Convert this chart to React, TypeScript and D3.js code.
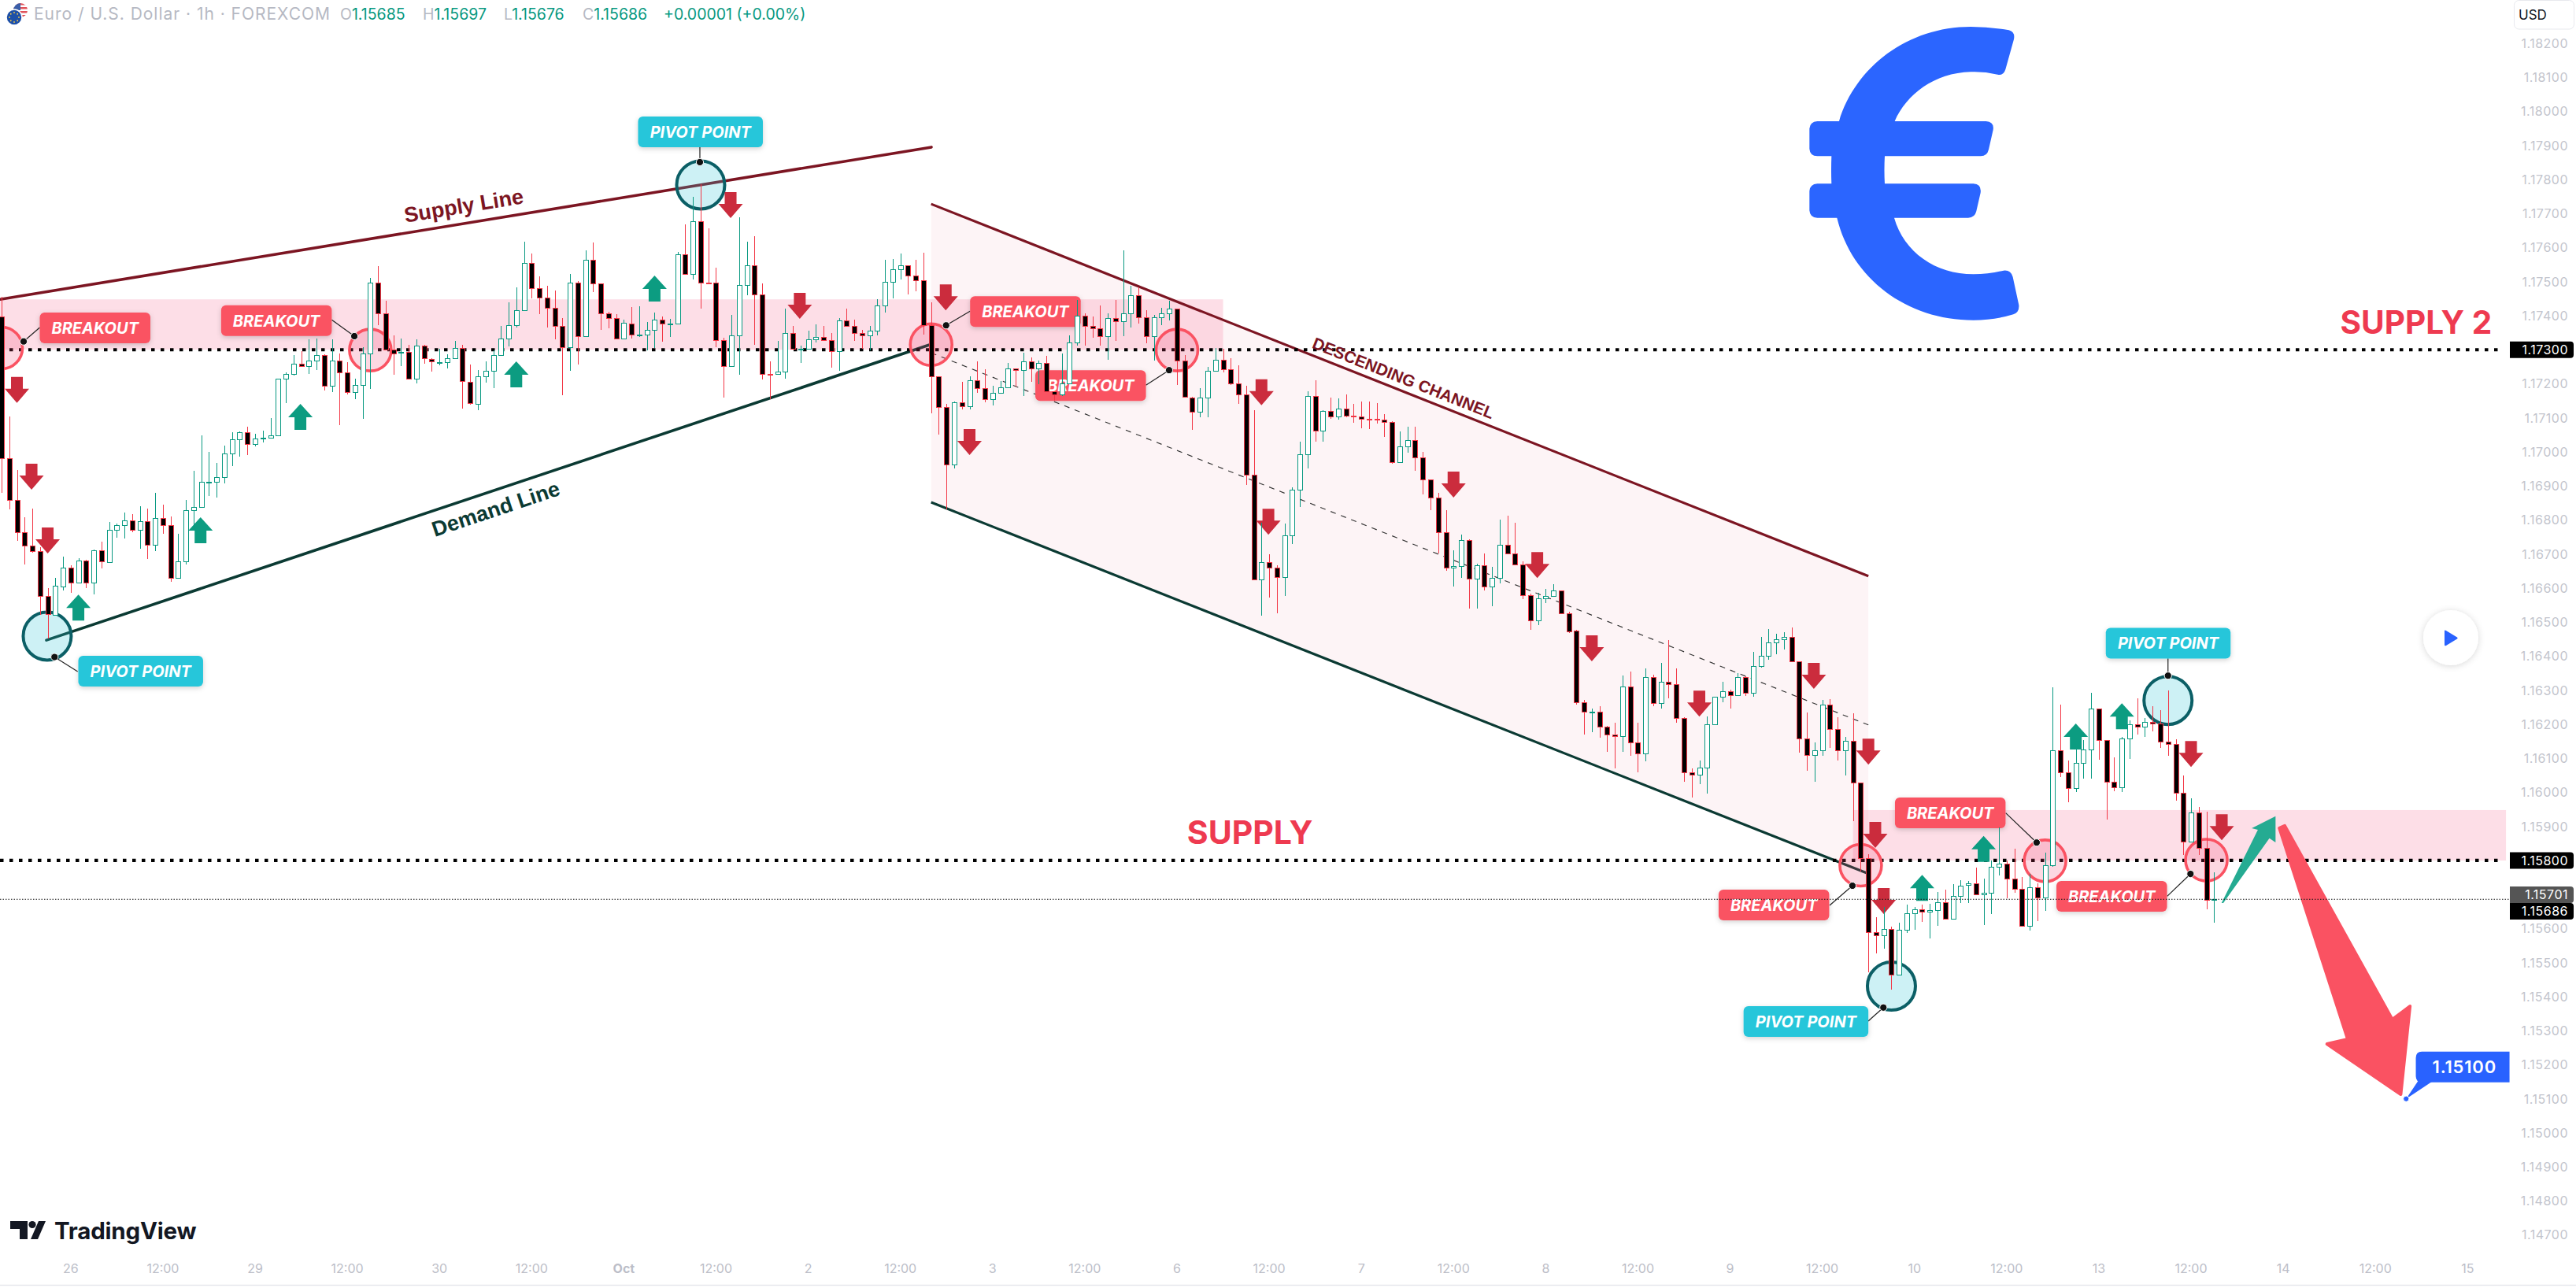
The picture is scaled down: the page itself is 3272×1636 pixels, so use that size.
import React from "react";
import * as d3 from "d3";

const W = 3272;
const H = 1636;

// Hourly candles, prices in 1e-5 units
const opens = [
117398,116981,116858,116763,116725,116708,116576,116522,116605,116661,
116617,116682,116617,116712,116677,116770,116784,116799,116770,116797,
116728,116805,116784,116629,116678,116830,116839,116910,116911,116927,
116996,117038,117057,117024,117041,117042,117049,117214,117230,117260,
117251,117269,117285,117195,117269,117234,117175,117197,117290,117498,
117408,117301,117292,117293,117216,117313,117273,117263,117264,117276,
117305,117206,117141,117223,117237,117285,117334,117373,117417,117554,
117482,117454,117424,117371,117308,117498,117341,117565,117494,117408,
117394,117333,117378,117344,117345,117359,117389,117377,117378,117581,
117523,117678,117497,117496,117329,117253,117343,117489,117547,117463,
117228,117228,117236,117348,117303,117303,117331,117338,117329,117297,
117387,117371,117348,117343,117355,117429,117500,117537,117547,117519,
117503,117373,117223,117132,116964,117146,117135,117211,117188,117154,
117174,117190,117245,117241,117266,117244,117262,117178,117168,117201,
117322,117400,117371,117362,117339,117394,117383,117408,117461,117396,
117339,117396,117408,117420,117269,117160,117117,117160,117239,117271,
117243,117201,117169,116934,116625,116677,116660,116633,116754,116890,
116994,117163,117063,117121,117103,117126,117107,117104,117098,117098,
117094,117087,116969,117017,117034,116983,116920,116867,116763,116659,
116664,116740,116627,116668,116604,116629,116728,116701,116670,116578,
116504,116569,116576,116592,116527,116474,116265,116237,116238,116192,
116171,116165,116312,116146,116114,116338,116262,116324,116319,116218,
116058,116053,116072,116199,116282,116296,116285,116338,116292,116370,
116400,116440,116449,116456,116386,116158,116109,116123,116257,116185,
116123,116151,116028,115808,115589,115580,115598,115464,115596,115644,
115656,115649,115654,115677,115628,115697,115728,115734,115701,115705,
115781,115790,115746,115716,115609,115721,115691,115785,116124,116058,
116012,116086,116127,116246,116153,116031,116015,116158,116199,116194,
116206,116202,116149,116142,115998,115855,115940,115836,115685];

const closes = [
116981,116858,116763,116725,116708,116576,116523,116606,116661,116617,
116682,116617,116712,116678,116770,116784,116799,116770,116797,116728,
116805,116784,116629,116678,116830,116839,116911,116911,116927,116996,
117038,117057,117024,117040,117042,117049,117214,117230,117260,117251,
117269,117285,117195,117269,117234,117175,117197,117290,117498,117408,
117301,117290,117293,117216,117313,117274,117265,117264,117276,117305,
117208,117144,117223,117237,117285,117334,117373,117417,117554,117482,
117454,117424,117371,117308,117498,117341,117565,117494,117408,117394,
117333,117379,117344,117345,117359,117389,117378,117378,117581,117523,
117678,117497,117496,117329,117253,117343,117489,117547,117463,117228,
117227,117236,117348,117304,117304,117331,117338,117329,117297,117387,
117371,117348,117343,117355,117429,117500,117537,117547,117519,117503,
117373,117223,117132,116964,117146,117135,117211,117188,117154,117174,
117190,117246,117241,117266,117244,117262,117178,117168,117201,117322,
117400,117371,117362,117339,117394,117383,117408,117461,117396,117339,
117396,117408,117420,117269,117161,117117,117160,117239,117271,117243,
117201,117169,116934,116625,116677,116660,116633,116754,116890,116994,
117163,117063,117121,117103,117126,117107,117106,117098,117097,117094,
117087,116969,117017,117034,116983,116920,116867,116763,116659,116664,
116740,116627,116668,116604,116629,116728,116701,116670,116578,116504,
116569,116576,116592,116527,116473,116265,116238,116238,116192,116171,
116165,116312,116146,116114,116338,116262,116324,116319,116218,116058,
116053,116072,116199,116282,116296,116285,116338,116292,116370,116400,
116440,116449,116456,116386,116158,116109,116123,116257,116185,116123,
116151,116028,115808,115589,115580,115598,115464,115596,115644,115656,
115649,115654,115677,115628,115697,115727,115734,115701,115705,115781,
115790,115746,115716,115609,115721,115691,115786,116124,116058,116012,
116086,116127,116246,116153,116031,116015,116158,116199,116194,116206,
116202,116149,116142,115998,115855,115940,115837,115684,115686];

const highs = [
117456,117105,116946,116808,116834,116721,116599,116630,116692,116667,
116688,116683,116714,116737,116795,116789,116821,116818,116840,116834,
116879,116844,116810,116759,116860,116944,117048,116999,116968,117018,
117057,117059,117073,117053,117062,117099,117216,117233,117284,117296,
117330,117332,117286,117330,117290,117263,117216,117308,117512,117545,
117445,117342,117332,117315,117330,117315,117276,117303,117286,117326,
117315,117257,117240,117265,117298,117371,117439,117483,117618,117583,
117515,117488,117473,117392,117522,117502,117591,117615,117494,117411,
117404,117388,117425,117427,117382,117409,117398,117390,117587,117668,
117749,117787,117656,117540,117335,117402,117688,117618,117633,117494,
117267,117326,117421,117369,117313,117355,117374,117371,117350,117392,
117421,117388,117359,117371,117448,117565,117567,117582,117547,117565,
117584,117439,117223,117140,117149,117205,117223,117267,117242,117194,
117209,117261,117245,117292,117277,117269,117281,117178,117290,117342,
117446,117408,117398,117429,117408,117446,117593,117488,117483,117417,
117403,117423,117444,117420,117284,117161,117188,117249,117305,117302,
117275,117254,117195,117122,116793,116699,116668,116789,116895,117030,
117177,117211,117122,117159,117157,117168,117140,117149,117147,117143,
117112,117090,117059,117073,117073,117000,116920,116879,116828,116711,
116758,116743,116671,116701,116662,116801,116812,116793,116679,116584,
116585,116597,116611,116594,116530,116477,116271,116246,116254,116195,
116204,116343,116356,116204,116363,116345,116380,116447,116364,116221,
116070,116094,116223,116282,116325,116302,116350,116342,116412,116456,
116479,116466,116470,116484,116386,116235,116146,116271,116274,116221,
116163,116232,116028,115818,115633,115664,115605,115618,115670,115664,
115670,115672,115708,115714,115730,115741,115740,115779,115747,115801,
115896,115801,115834,115752,115761,115734,115823,116308,116258,116094,
116127,116154,116293,116246,116153,116102,116162,116212,116276,116218,
116254,116241,116300,116155,116050,115983,115957,115943,115765];

const lows = [
116880,116832,116739,116669,116704,116522,116452,116520,116594,116586,
116617,116599,116582,116657,116675,116748,116745,116764,116715,116686,
116708,116759,116619,116629,116669,116774,116839,116871,116865,116908,
116958,116986,116991,117015,117028,117040,117047,117143,117224,117251,
117228,117241,117181,117176,117078,117169,117154,117096,117185,117373,
117301,117227,117253,117214,117201,117259,117235,117255,117245,117274,
117128,117138,117123,117203,117187,117282,117309,117365,117417,117450,
117404,117365,117330,117167,117238,117257,117341,117470,117358,117363,
117331,117333,117333,117338,117298,117305,117323,117338,117378,117523,
117506,117421,117494,117307,117159,117253,117226,117460,117315,117213,
117154,117228,117214,117302,117261,117302,117321,117329,117248,117238,
117371,117326,117302,117298,117342,117409,117450,117507,117462,117471,
117344,117113,117051,116831,116951,117124,117124,117173,117146,117136,
117173,117188,117192,117164,117205,117198,117177,117150,117165,117201,
117312,117312,117336,117312,117271,117326,117340,117366,117376,117319,
117268,117372,117386,117196,117161,117065,117101,117101,117239,117234,
117196,117141,116903,116625,116519,116572,116526,116577,116730,116838,
116951,117030,117030,117097,117095,117101,117086,117070,117067,117084,
117044,116965,116969,116997,116944,116875,116829,116702,116651,116604,
116630,116540,116540,116593,116547,116614,116699,116668,116568,116477,
116491,116556,116576,116525,116468,116258,116171,116177,116161,116120,
116070,116120,116107,116060,116092,116254,116246,116277,116205,116032,
115986,116024,115997,116199,116265,116246,116285,116283,116281,116367,
116390,116406,116420,116383,116117,116064,116032,116107,116131,116094,
116050,115915,115768,115472,115526,115541,115421,115464,115587,115596,
115620,115572,115608,115628,115627,115676,115676,115699,115611,115642,
115755,115690,115706,115605,115593,115621,115651,115782,116044,115972,
116002,116041,116041,116095,115920,116004,116002,116099,116171,116164,
116179,116131,116108,115975,115816,115853,115816,115657,115618];

// Time axis: one label every 12 bars, starting at bar -3
const timeLabels = ["12:00","26","12:00","29","12:00","30","12:00","Oct","12:00","2","12:00","3","12:00","6","12:00","7","12:00","8","12:00","9","12:00","10","12:00","13","12:00","14","12:00","15"];

// Annotations, all as [bar, price(1e-5)]
const downArrows = [[2,117220],[3.9,116965],[6,116778],[94.9,117763],[103.9,117467],[122.9,117492],[126,117067],[164,117213],[164.9,116833],[189,116942],[199.9,116706],[207,116461],[221,116299],[235.9,116380],[243,116158],[243.9,115913],[245,115719],[285,116151],[289,115936]];
const upArrows = [[10,116581],[25.9,116808],[38.9,117141],[67,117266],[85,117518],[250,115758],[258,115872],[270,116202],[276,116262]];

const breakouts = [
  { at: [0, 117305], box: [48.5, -45], dot: [28, -8.4], from: [48.5, -26] },
  { at: [48, 117299], box: [-189.5, -57], dot: [-20.3, -17.7], from: [-49, -38.5] },
  { at: [121, 117315], box: [49.5, -61.5], dot: [19, -24.5], from: [49.5, -42.5] },
  { at: [153, 117299], box: [-179.9, 25.5], dot: [-10, 25.5], from: [-39.5, 44.5] },
  { at: [242, 115786], box: [-180.5, 31], dot: [-10.5, 26], from: [-39.5, 51] },
  { at: [266, 115799], box: [-190.7, -80.5], dot: [-10.7, -23.2], from: [-50, -60.8] },
  { at: [287, 115801], box: [-190.5, 26.5], dot: [-20.2, 17.5], from: [-49.8, 45.8] },
];
const pivots = [
  { at: [5.94, 116459], box: [39.5, 25], dot: [9.3, 26.6], from: [38.7, 45] },
  { at: [91, 117784], box: [-79.5, -87], dot: [-1, -29], from: [-1, -48] },
  { at: [246, 115431], box: [-187.8, 25.5], dot: [-10.2, 27.2], from: [-29.5, 44.5] },
  { at: [282, 116270], box: [-79, -92.2], dot: [0, -31.5], from: [0, -53.5] },
];

const supplyLine = [[-0.2, 117448], [121.03, 117895]];
const demandLine = [[5.84, 116447], [120.7, 117314]];
const channelTop = [[121, 117728], [243, 116635]];
const channelMid = [[121, 117291], [243, 116198]];
const channelBottom = [[121, 116852], [243, 115761]];
const zoneOne = [[-0.2, 117448], [159, 117300]];
const zoneTwo = [[241, 115948], [326, 115800]];
const levels = [117300, 115800];
const lastPrice = 115686;
const targetNote = [313, 115100];
const bigRedArrow = [[296.5,115895],[297.2,115902],[311.2,115333],[313.5,115372],[312.3,115113],[302.7,115261],[305.4,115275]];
const bigGreenArrow = [[288.97,115675],[293.7,115890],[292.9,115895],[296,115930],[296,115853],[295.2,115865],[289.2,115675]];

const GREEN = "#089981";
const RED = "#f23645";
const DARKRED = "#7c1522";
const DARKGREEN = "#0b3a33";
const CORAL = "#fa5262";
const CYAN = "#26c6da";
const UI = "Inter, 'Noto Sans', sans-serif";

const x = d3.scaleLinear().domain([0, 288]).range([2, 2 + 288 * 9.758]);
const y = d3.scaleLinear().domain([118200, 115100]).range([55, 1395.7]);
const pt = (d: number[]) => [x(d[0]), y(d[1])] as [number, number];
const line = d3.line();
const fmt = (p: number) => (p / 100000).toFixed(5);

function Arrow({ i, p, dir }: { i: number; p: number; dir: "up" | "down" }) {
  const cx = x(i);
  const t = y(p);
  const poly =
    dir === "down"
      ? [[cx - 7.5, t], [cx + 7.5, t], [cx + 7.5, t + 15], [cx + 15.5, t + 15], [cx, t + 33], [cx - 15.5, t + 15], [cx - 7.5, t + 15]]
      : [[cx, t], [cx + 15.5, t + 17], [cx + 7.5, t + 17], [cx + 7.5, t + 33], [cx - 7.5, t + 33], [cx - 7.5, t + 17], [cx - 15.5, t + 17]];
  return <polygon points={poly.map((q) => q.join(",")).join(" ")} fill={dir === "down" ? "#cb2c3d" : "#0c9c81"} />;
}

function Callout({ a, label, width, color }: { a: (typeof pivots)[number]; label: string; width: number; color: string }) {
  const [cx, cy] = pt(a.at);
  const bx = cx + a.box[0];
  const by = cy + a.box[1];
  return (
    <g>
      <line x1={cx + a.from[0]} y1={cy + a.from[1]} x2={cx + a.dot[0]} y2={cy + a.dot[1]} stroke="#222" strokeWidth={1.2} />
      <rect x={bx} y={by} width={width} height={39} rx={6} fill={color} filter="url(#soft)" />
      <text x={bx + width / 2} y={by + 27} textAnchor="middle" fill="#fff" fontFamily={UI} fontStyle="italic" fontWeight={700} fontSize={20}>
        {label}
      </text>
      <circle cx={cx + a.dot[0]} cy={cy + a.dot[1]} r={4.6} fill="#111" stroke="#fff" strokeWidth={1} />
    </g>
  );
}

function PriceTag({ p, yy, fill }: { p: number; yy: number; fill: string }) {
  return (
    <g>
      <path d={`M3188 ${yy - 10.5}h77q4 0 4 4v13q0 4 -4 4h-77z`} fill={fill} />
      <text x={3262} y={yy + 5.8} textAnchor="end" fill="#fff" fontFamily={UI} fontSize={16} letterSpacing={0.5}>
        {fmt(p)}
      </text>
    </g>
  );
}

export default function App() {
  const bars = d3.range(opens.length);
  const note = pt(targetNote);
  const chan = [...channelTop.map(pt), ...channelBottom.map(pt).reverse()];
  const z1 = zoneOne.map(pt);
  const z2 = zoneTwo.map(pt);
  return (
    <svg width={W} height={H} viewBox={`0 0 ${W} ${H}`} style={{ position: "absolute", left: 0, top: 0, display: "block", background: "#fff" }}>
      <defs>
        <filter id="soft" x="-10%" y="-20%" width="120%" height="150%">
          <feDropShadow dx={0} dy={2} stdDeviation={3} floodColor="#000" floodOpacity={0.18} />
        </filter>
        <filter id="playShadow" x="-40%" y="-40%" width="180%" height="180%">
          <feDropShadow dx={0} dy={1} stdDeviation={4} floodColor="#000" floodOpacity={0.16} />
        </filter>
      </defs>

      {/* channel + zones */}
      <polygon points={chan.map((q) => q.join(",")).join(" ")} fill="#fdf4f6" />
      <rect x={z1[0][0]} y={z1[0][1]} width={z1[1][0] - z1[0][0]} height={z1[1][1] - z1[0][1]} fill="#f9a8c0" fillOpacity={0.38} />
      <rect x={z2[0][0]} y={z2[0][1]} width={z2[1][0] - z2[0][0]} height={z2[1][1] - z2[0][1]} fill="#f9a8c0" fillOpacity={0.38} />

      {/* euro symbol */}
      <path
        transform="translate(2250,0) scale(0.3333)"
        fill="#2b65ff"
        d="M905 115 Q930 122 924 150 L892 265 Q884 290 862 284 Q810 272 760 274 C620 278 515 360 470 462 L818 462 Q850 464 845 495 L828 570 Q822 595 798 595 L432 595 Q429 650 432 700 L770 700 Q802 702 797 735 L781 805 Q775 830 750 830 L468 830 C505 960 625 1045 770 1045 Q830 1045 885 1031 Q912 1028 920 1055 L943 1162 Q946 1190 922 1198 Q850 1220 770 1220 C515 1220 305 1060 250 830 L175 830 Q147 830 145 802 L145 728 Q147 702 175 700 L229 700 Q227 650 229 595 L175 595 Q147 595 145 567 L145 490 Q147 464 175 462 L258 462 C320 255 520 102 760 102 Q830 102 905 115 Z"
      />

      {/* trend lines */}
      <path d={line(supplyLine.map(pt))!} stroke={DARKRED} strokeWidth={3.6} fill="none" strokeLinecap="round" />
      <path d={line(demandLine.map(pt))!} stroke={DARKGREEN} strokeWidth={3.6} fill="none" strokeLinecap="round" />
      <path d={line(channelTop.map(pt))!} stroke={DARKRED} strokeWidth={3.2} fill="none" />
      <path d={line(channelBottom.map(pt))!} stroke={DARKGREEN} strokeWidth={3.2} fill="none" />
      <path d={line(channelMid.map(pt))!} stroke="#333" strokeWidth={1.1} strokeDasharray="7 7" fill="none" />

      {/* horizontal levels */}
      {levels.map((l) => (
        <line key={l} x1={0} x2={3180} y1={y(l)} y2={y(l)} stroke="#000" strokeWidth={4.2} strokeDasharray="4.5 7.5" />
      ))}

      {/* rotated labels */}
      <text transform={`translate(${pt([60.2, 117718]).join(",")}) rotate(-9.3)`} textAnchor="middle" dominantBaseline="middle" fontFamily="'Liberation Sans', sans-serif" fontWeight={700} fontSize={27} fill={DARKRED}>Supply Line</text>
      <text transform={`translate(${pt([64.4, 116828]).join(",")}) rotate(-18.5)`} textAnchor="middle" dominantBaseline="middle" fontFamily="'Liberation Sans', sans-serif" fontWeight={700} fontSize={27} fill={DARKGREEN}>Demand Line</text>
      <text transform={`translate(${pt([182.4, 117213]).join(",")}) rotate(21.65)`} textAnchor="middle" dominantBaseline="middle" fontFamily="'Liberation Sans', sans-serif" fontWeight={700} fontSize={20.8} fill={DARKRED}>DESCENDING CHANNEL</text>
      <text x={pt([162.8, 115881])[0] - 3} y={y(115881) + 3} textAnchor="middle" dominantBaseline="middle" fontFamily={UI} fontWeight={700} fontSize={41} fill="#ee3a50">SUPPLY</text>
      <text x={pt([314.5, 117377])[0] - 2} y={y(117377) + 2} textAnchor="middle" dominantBaseline="middle" fontFamily={UI} fontWeight={700} fontSize={40.5} fill="#ee3a50">SUPPLY 2</text>

      {/* circles */}
      {breakouts.map((b, k) => {
        const [cx, cy] = pt(b.at);
        return <circle key={k} cx={cx} cy={cy} r={26.5} fill="#f23e6c" fillOpacity={0.2} stroke={CORAL} strokeWidth={3.6} />;
      })}
      {pivots.map((b, k) => {
        const [cx, cy] = pt(b.at);
        return <circle key={k} cx={cx} cy={cy} r={30.5} fill="#2cc3d6" fillOpacity={0.24} stroke="#0b5f66" strokeWidth={4} />;
      })}

      {/* callouts */}
      {breakouts.map((b, k) => <Callout key={k} a={b} label="BREAKOUT" width={140.5} color={CORAL} />)}
      {pivots.map((b, k) => <Callout key={k} a={b} label="PIVOT POINT" width={158.5} color={CYAN} />)}

      {/* block arrows */}
      {downArrows.map((a, k) => <Arrow key={k} i={a[0]} p={a[1]} dir="down" />)}
      {upArrows.map((a, k) => <Arrow key={k} i={a[0]} p={a[1]} dir="up" />)}

      {/* big projection arrows */}
      <polygon points={bigRedArrow.map(pt).map((q) => q.join(",")).join(" ")} fill={CORAL} stroke={CORAL} strokeWidth={4} strokeLinejoin="round" />
      <polygon points={bigGreenArrow.map(pt).map((q) => q.join(",")).join(" ")} fill="#25ab92" />

      {/* candles */}
      <g shapeRendering="crispEdges">
        {bars.map((i) => {
          const up = closes[i] >= opens[i];
          const stroke = up ? GREEN : RED;
          const cx = Math.round(x(i));
          const top = Math.round(y(Math.max(opens[i], closes[i])));
          const bot = Math.round(y(Math.min(opens[i], closes[i])));
          return (
            <g key={i}>
              <line x1={cx + 0.5} x2={cx + 0.5} y1={y(highs[i])} y2={y(lows[i])} stroke={stroke} strokeWidth={1} />
              <rect x={cx - 2.5} y={top + 0.5} width={6} height={Math.max(bot - top, 1)} fill={up ? "#fff" : "#000"} stroke={stroke} strokeWidth={1} />
            </g>
          );
        })}
      </g>

      {/* last price dotted line */}
      <line x1={0} x2={3188} y1={y(lastPrice)} y2={y(lastPrice)} stroke="#111" strokeWidth={1} strokeDasharray="1.5 2" />

      {/* target note */}
      <path d={`M${note[0] + 16} ${note[1] - 24} L${note[0] + 33} ${note[1] - 22} L${note[0]} ${note[1]} Z`} fill="#2962ff" />
      <path d={`M${note[0] + 20} ${note[1] - 60} H${note[0] + 131.3} V${note[1] - 21} H${note[0] + 20} Q${note[0] + 12.3} ${note[1] - 21} ${note[0] + 12.3} ${note[1] - 29} V${note[1] - 52} Q${note[0] + 12.3} ${note[1] - 60} ${note[0] + 20} ${note[1] - 60} Z`} fill="#2962ff" />
      <text x={note[0] + 74} y={note[1] - 32.5} textAnchor="middle" fill="#fff" fontFamily={UI} fontWeight={600} fontSize={22} letterSpacing={0.8}>{fmt(targetNote[1])}</text>
      <circle cx={note[0]} cy={note[1]} r={3.6} fill="#2962ff" stroke="#fff" strokeWidth={1} />

      {/* price axis */}
      {d3.range(114700, 118300, 100).map((p) => (
        <text key={p} x={3262} y={y(p) + 5.8} textAnchor="end" fill="#c3c5cd" fontFamily={UI} fontSize={16} letterSpacing={0.5}>{fmt(p)}</text>
      ))}
      <rect x={3193.5} y={0.5} width={76} height={36.5} rx={6} fill="#fff" stroke="#e8e9ee" />
      <text x={3199} y={24.5} fill="#131722" fontFamily={UI} fontSize={17}>USD</text>
      <PriceTag p={117300} yy={y(117300)} fill="#000" />
      <PriceTag p={115800} yy={y(115800)} fill="#000" />
      <PriceTag p={115701} yy={1136.5} fill="#555" />
      <PriceTag p={115686} yy={1157.5} fill="#000" />

      {/* time axis */}
      {timeLabels.map((t, k) => (
        <text key={k} x={x(-3 + 12 * k)} y={1617} textAnchor="middle" fill="#bcbec8" fontFamily={UI} fontSize={16} fontWeight={t === "Oct" ? 700 : 400}>{t}</text>
      ))}
      <line x1={0} x2={W} y1={1632.5} y2={1632.5} stroke="#e6e7ec" strokeWidth={1.5} />

      {/* header */}
      <g>
        <clipPath id="usFlag"><circle cx={26} cy={13} r={9} /></clipPath>
        <g clipPath="url(#usFlag)">
          <rect x={17} y={4} width={18} height={18} fill="#fff" />
          {[4, 9, 14, 19].map((s) => <rect key={s} x={17} y={s} width={18} height={2.5} fill="#e0525a" />)}
          <rect x={17} y={4} width={9} height={9} fill="#3a5ea8" />
        </g>
        <circle cx={18} cy={22} r={10} fill="#1d50a8" stroke="#fff" strokeWidth={1.5} />
        {d3.range(8).map((k) => (
          <circle key={k} cx={18 + 6 * Math.cos((k * Math.PI) / 4)} cy={22 + 6 * Math.sin((k * Math.PI) / 4)} r={0.9} fill="#f6c945" />
        ))}
      </g>
      <text x={43} y={25} fontFamily={UI} fontSize={21} fill="#b6b9c3" textLength={376} lengthAdjust="spacing">Euro / U.S. Dollar · 1h · FOREXCOM</text>
      {[["O","1.15685",432],["H","1.15697",537],["L","1.15676",640],["C","1.15686",740]].map(([a, b, px]) => (
        <text key={a as string} x={px as number} y={25} fontFamily={UI} fontSize={19.5}>
          <tspan fill="#b6b9c3">{a as string}</tspan>
          <tspan fill={GREEN}>{b as string}</tspan>
        </text>
      ))}
      <text x={843} y={25} fontFamily={UI} fontSize={19.5} fill={GREEN}>+0.00001 (+0.00%)</text>

      {/* logo */}
      <path d="M13 1551h22v23h-10v-13h-12z M49 1551h9l-10 23h-9z" fill="#131722" />
      <circle cx={41} cy={1555.5} r={4.6} fill="#131722" />
      <text x={69} y={1574} fontFamily={UI} fontWeight={700} fontSize={29.5} fill="#131722" letterSpacing={-0.2}>TradingView</text>

      {/* play button */}
      <circle cx={3113} cy={810} r={35} fill="#fff" filter="url(#playShadow)" />
      <path d="M3105 801v18q0 2 2 1l14-8.5q1.5-1 0-2l-14-8.5q-2-1-2 .5z" fill="#2962ff" />
    </svg>
  );
}
